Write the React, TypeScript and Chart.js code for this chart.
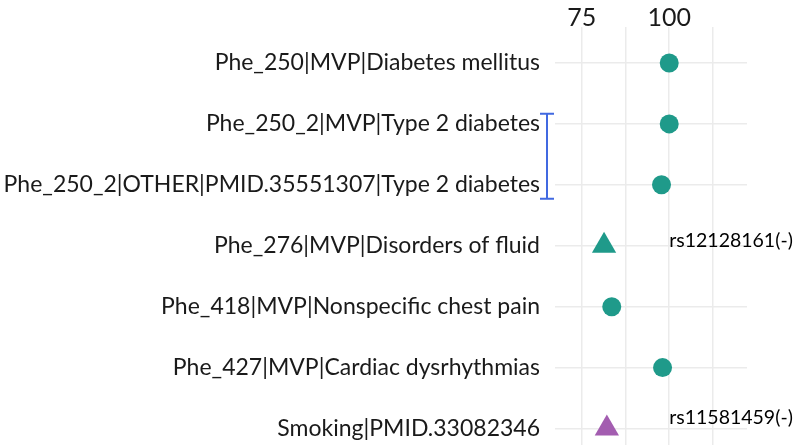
import React, { useEffect, useRef } from "react";
import { Chart, registerables } from "chart.js";

Chart.register(...registerables);

const categories = [
  "Phe_250|MVP|Diabetes mellitus",
  "Phe_250_2|MVP|Type 2 diabetes",
  "Phe_250_2|OTHER|PMID.35551307|Type 2 diabetes",
  "Phe_276|MVP|Disorders of fluid",
  "Phe_418|MVP|Nonspecific chest pain",
  "Phe_427|MVP|Cardiac dysrhythmias",
  "Smoking|PMID.33082346",
];
const values = [100, 100, 97.8, 81.4, 83.6, 98.1, 82.2];
const shapes = ["circle", "circle", "circle", "triangle", "circle", "circle", "triangle"];
const colors = ["#1f9a8a", "#1f9a8a", "#1f9a8a", "#1f9a8a", "#1f9a8a", "#1f9a8a", "#a35db0"];

const xTicks = [75, 87.5, 100, 112.5];
const xTickLabels = ["75", "", "100", ""];

const annotationX = [100, 100];
const annotationY = [2.915, 5.82];
const annotationTexts = ["rs12128161(-)", "rs11581459(-)"];

const bracketRows = [1, 2];

const FONT = "Lato";

const annotationPlugin = {
  id: "annots",
  afterDraw(chart: any) {
    const { ctx, scales, chartArea } = chart;
    const xs = scales.x;
    const ys = scales.y;
    ctx.save();
    ctx.font = `19.5px ${FONT}`;
    ctx.fillStyle = "#000000";
    ctx.textAlign = "left";
    ctx.textBaseline = "middle";
    annotationTexts.forEach((t, i) => {
      ctx.fillText(t, xs.getPixelForValue(annotationX[i]), ys.getPixelForValue(annotationY[i]));
    });
    // bracket
    const top = ys.getPixelForValue(bracketRows[0] - 0.165);
    const bot = ys.getPixelForValue(bracketRows[1] + 0.23);
    const bx = chartArea.left - 8;
    ctx.strokeStyle = "#4169e1";
    ctx.lineWidth = 2;
    ctx.beginPath();
    ctx.moveTo(bx, top);
    ctx.lineTo(bx, bot);
    ctx.moveTo(bx - 7, top);
    ctx.lineTo(bx + 7, top);
    ctx.moveTo(bx - 7, bot);
    ctx.lineTo(bx + 7, bot);
    ctx.stroke();
    ctx.restore();
  },
};

export default function App() {
  const ref = useRef<HTMLCanvasElement>(null);
  useEffect(() => {
    if (!ref.current) return;
    const chart = new Chart(ref.current, {
      type: "scatter",
      data: {
        datasets: [
          {
            data: values.map((v, i) => ({ x: v, y: i })),
            pointStyle: shapes as any,
            pointRadius: shapes.map((s) => (s === "triangle" ? 14 : 9.5)),
            pointHoverRadius: shapes.map((s) => (s === "triangle" ? 14 : 9.5)),
            backgroundColor: colors,
            borderColor: colors,
            borderWidth: 0,
            clip: false as any,
          },
        ],
      },
      options: {
        responsive: false,
        animation: false,
        layout: { autoPadding: false, padding: { left: 0, right: 50, top: 0, bottom: 0 } },
        plugins: { legend: { display: false }, tooltip: { enabled: false } },
        scales: {
          x: {
            type: "linear",
            position: "top",
            min: 67.4,
            max: 122.2,
            afterBuildTicks: (axis: any) => {
              axis.ticks = xTicks.map((v) => ({ value: v }));
            },
            afterFit: (scale: any) => {
              scale.height = 27;
              scale.paddingLeft = 0;
              scale.paddingRight = 0;
            },
            ticks: {
              autoSkip: false,
              maxRotation: 0,
              padding: -6,
              color: "#1a1a1a",
              font: { family: FONT, size: 25 },
              callback: (v: any) => {
                const idx = xTicks.indexOf(Number(v));
                return idx >= 0 ? xTickLabels[idx] : "";
              },
            },
            grid: { color: "#ebebeb", lineWidth: 1.5, drawTicks: false },
            border: { display: false },
          },
          y: {
            type: "linear",
            reverse: true,
            min: -0.59,
            max: 6.27,
            afterBuildTicks: (axis: any) => {
              axis.ticks = categories.map((_, i) => ({ value: i }));
            },
            afterFit: (scale: any) => {
              scale.width = 555;
              scale.paddingTop = 0;
              scale.paddingBottom = 0;
            },
            ticks: {
              autoSkip: false,
              padding: 15,
              color: "#1a1a1a",
              font: { family: FONT, size: 23 },
              callback: (v: any) => categories[Number(v)] ?? "",
            },
            grid: { color: "#ebebeb", lineWidth: 1.5, drawTicks: false },
            border: { display: false },
          },
        },
      },
      plugins: [annotationPlugin],
    });
    return () => chart.destroy();
  }, []);
  return (
    <div style={{ position: "absolute", left: 0, top: 0, width: 797, height: 445, overflow: "hidden", background: "#fff" }}>
      <canvas ref={ref} width={797} height={445} />
    </div>
  );
}
